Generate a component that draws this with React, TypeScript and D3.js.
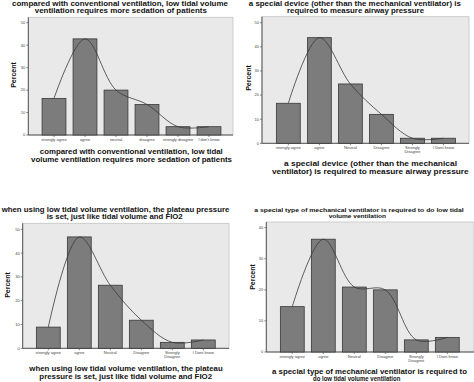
import React from "react";
import * as d3 from "d3";

// ---------- data ----------
const categoriesA = ["strongly agree", "agree", "neutral", "disagree", "strongly disagree", "I don't know"];
const categoriesB = ["strongly agree", "agree", "Neutral", "Disagree", "Strongly\nDisagree", "I Dont know"];

const values1 = [16.3, 42.8, 20.0, 13.6, 3.7, 3.7];
const values2 = [16.6, 43.8, 24.6, 12.0, 2.1, 2.1];
const values3 = [8.9, 46.8, 26.5, 11.8, 2.5, 3.5];
const values4 = [14.6, 36.3, 20.9, 20.0, 3.9, 4.7];

const yTicks50 = [0, 10, 20, 30, 40, 50];
const yTicks40 = [0, 10, 20, 30, 40];

const title1 = ["compared with conventional ventilation, low tidal volume", "ventilation requires more sedation of patients"];
const xTitle1 = ["compared with conventional ventilation, low tidal", "volume ventilation requires more sedation of patients"];
const title2 = ["a special device (other than the mechanical ventilator) is", "required to measure airway pressure"];
const xTitle2 = ["a special device (other than the mechanical", "ventilator) is required to measure airway pressure"];
const title3 = ["when using low tidal volume ventilation, the plateau pressure", "is set, just like tidal volume and FIO2"];
const xTitle3 = ["when using low tidal volume ventilation, the plateau", "pressure is set, just like tidal volume and FIO2"];
const title4 = ["a special type of mechanical ventilator is required to do low tidal", "volume ventilation"];
const xTitle4 = ["a special type of mechanical ventilator is required to", "do low tidal volume ventilation"];

const yLabel = "Percent";

// ---------- layout ----------
type Line = { cx: number; y: number; w: number };
type Layout = {
  left: number; right: number; top: number; bottom: number;
  yTopTick: number; bandL: number; bandR: number;
  titleSize: number; titleLines: Line[];
  xTitleSize: number; xTitleLines: Line[];
  yLabelX: number; yLabelY: number;
};

const panels: { cats: string[]; vals: number[]; ticks: number[]; title: string[]; xTitle: string[]; L: Layout }[] = [
  {
    cats: categoriesA, vals: values1, ticks: yTicks50, title: title1, xTitle: xTitle1,
    L: {
      left: 28.3, right: 233, top: 17.3, bottom: 135, yTopTick: 22.7, bandL: 38.5, bandR: 224.5,
      titleSize: 6.8, titleLines: [{ cx: 120, y: 5.5, w: 216 }, { cx: 120.8, y: 12.6, w: 172 }],
      xTitleSize: 7.4, xTitleLines: [{ cx: 131.3, y: 153.5, w: 183 }, { cx: 131.5, y: 161.5, w: 201 }],
      yLabelX: 13, yLabelY: 75,
    },
  },
  {
    cats: categoriesB, vals: values2, ticks: yTicks50, title: title2, xTitle: xTitle2,
    L: {
      left: 262, right: 469, top: 16.7, bottom: 143.3, yTopTick: 22.7, bandL: 272.8, bandR: 459,
      titleSize: 6.8, titleLines: [{ cx: 354.8, y: 6, w: 212 }, { cx: 355.5, y: 13.4, w: 137 }],
      xTitleSize: 7.4, xTitleLines: [{ cx: 370.5, y: 166, w: 173 }, { cx: 370.3, y: 174, w: 196.7 }],
      yLabelX: 248.7, yLabelY: 78,
    },
  },
  {
    cats: categoriesB, vals: values3, ticks: yTicks50, title: title3, xTitle: xTitle3,
    L: {
      left: 22.7, right: 229, top: 223.3, bottom: 348.3, yTopTick: 229.3, bandL: 32.8, bandR: 218.8,
      titleSize: 6.8, titleLines: [{ cx: 115.5, y: 211.7, w: 227.6 }, { cx: 114.7, y: 219, w: 136 }],
      xTitleSize: 7.4, xTitleLines: [{ cx: 126, y: 371, w: 193.4 }, { cx: 125.7, y: 379.3, w: 172.7 }],
      yLabelX: 7.3, yLabelY: 285,
    },
  },
  {
    cats: categoriesB, vals: values4, ticks: yTicks40, title: title4, xTitle: xTitle4,
    L: {
      left: 266.3, right: 474, top: 222, bottom: 352, yTopTick: 227.7, bandL: 276.8, bandR: 462.8,
      titleSize: 5.8, titleLines: [{ cx: 359, y: 212, w: 209.4 }, { cx: 357.3, y: 217.9, w: 57.3 }],
      xTitleSize: 6.7, xTitleLines: [{ cx: 369.5, y: 373.8, w: 195 }, { cx: 356.7, y: 381.2, w: 87.3 }],
      yLabelX: 252, yLabelY: 277,
    },
  },
];

const FONT = "'Liberation Sans', Arial, sans-serif";

function Panel({ cats, vals, ticks, title, xTitle, L }: typeof panels[number]) {
  const topTick = ticks[ticks.length - 1];
  const y = d3.scaleLinear().domain([0, topTick]).range([L.bottom, L.yTopTick]);
  const x = d3.scaleBand<string>().domain(cats).range([L.bandL, L.bandR]).paddingInner(0.23).paddingOuter(0.115);
  const bw = x.bandwidth();
  const pts: [number, number][] = cats.map((c, i) => [(x(c) as number) + bw / 2, y(vals[i])]);
  const linePath = d3.line().curve(d3.curveCatmullRom.alpha(0.5))(pts) || "";

  return (
    <g>
      {title.map((t, i) => (
        <text key={"t" + i} x={L.titleLines[i].cx} y={L.titleLines[i].y} textAnchor="middle"
          fontFamily={FONT} fontWeight="bold" fontSize={L.titleSize} fill="#111"
          textLength={L.titleLines[i].w} lengthAdjust="spacingAndGlyphs">{t}</text>
      ))}
      <rect x={L.left} y={L.top} width={L.right - L.left} height={L.bottom - L.top} fill="#e9e9e9" stroke="#c4c4c4" strokeWidth={0.8} />
      <line x1={L.left} x2={L.left} y1={L.top} y2={L.bottom} stroke="#555" strokeWidth={1} />
      <line x1={L.left} x2={L.right} y1={L.bottom} y2={L.bottom} stroke="#555" strokeWidth={1} />
      {ticks.map((t) => (
        <g key={"y" + t}>
          <line x1={L.left - 2} x2={L.left} y1={y(t)} y2={y(t)} stroke="#555" strokeWidth={0.7} />
          <text x={L.left - 3} y={y(t) + 1.4} textAnchor="end" fontFamily={FONT} fontSize={4} fill="#444">{t}</text>
        </g>
      ))}
      {cats.map((c, i) => (
        <rect key={"b" + i} x={x(c)} y={y(vals[i])} width={bw} height={L.bottom - y(vals[i])}
          fill="#7c7c7c" stroke="#383838" strokeWidth={0.8} />
      ))}
      <path d={linePath} fill="none" stroke="#3a3a3a" strokeWidth={0.8} />
      {cats.map((c, i) => {
        const cx = (x(c) as number) + bw / 2;
        const parts = c.split("\n");
        return (
          <g key={"x" + i}>
            <line x1={cx} x2={cx} y1={L.bottom} y2={L.bottom + 2} stroke="#555" strokeWidth={0.7} />
            {parts.map((p, j) => (
              <text key={j} x={cx} y={L.bottom + 6 + j * 4} textAnchor="middle" fontFamily={FONT} fontSize={4} fill="#444">{p}</text>
            ))}
          </g>
        );
      })}
      <text transform={`translate(${L.yLabelX},${L.yLabelY}) rotate(-90)`} textAnchor="middle" dominantBaseline="central"
        fontFamily={FONT} fontWeight="bold" fontSize={7} fill="#111">{yLabel}</text>
      {xTitle.map((t, i) => (
        <text key={"xt" + i} x={L.xTitleLines[i].cx} y={L.xTitleLines[i].y} textAnchor="middle"
          fontFamily={FONT} fontWeight="bold" fontSize={L.xTitleSize} fill="#111"
          textLength={L.xTitleLines[i].w} lengthAdjust="spacingAndGlyphs">{t}</text>
      ))}
    </g>
  );
}

export default function App() {
  return (
    <svg width={474} height={382} viewBox="0 0 474 382"
      style={{ position: "absolute", left: 0, top: 0, background: "#fff" }}>
      <rect x={0} y={0} width={474} height={382} fill="#fff" />
      {panels.map((p, i) => (
        <Panel key={i} {...p} />
      ))}
    </svg>
  );
}
